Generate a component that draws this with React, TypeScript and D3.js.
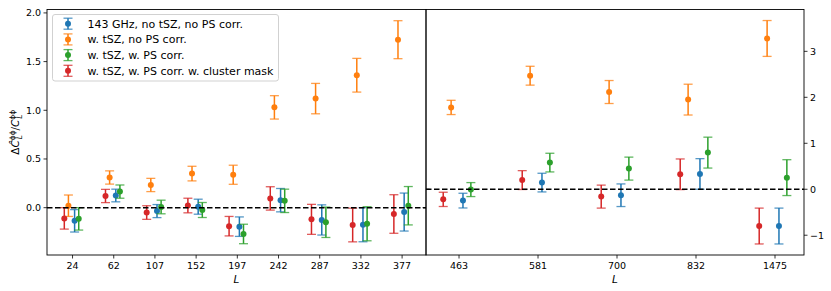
import React from "react";
import * as d3 from "d3";

const leftL = ["24", "62", "107", "152", "197", "242", "287", "332", "377"];
const rightL = ["463", "581", "700", "832", "1475"];

const blueLeft = [-0.135, 0.125, -0.035, 0.01, -0.195, 0.077, -0.126, -0.175, -0.045];
const blueLeftErr = [0.115, 0.065, 0.067, 0.077, 0.1, 0.12, 0.155, 0.175, 0.195];
const orangeLeft = [0.02, 0.31, 0.233, 0.35, 0.338, 1.03, 1.12, 1.36, 1.725];
const orangeLeftErr = [0.11, 0.068, 0.068, 0.075, 0.098, 0.12, 0.156, 0.173, 0.195];
const greenLeft = [-0.115, 0.165, 0.007, -0.024, -0.27, 0.07, -0.15, -0.165, 0.02];
const greenLeftErr = [0.115, 0.068, 0.07, 0.077, 0.1, 0.12, 0.156, 0.175, 0.197];
const redLeft = [-0.11, 0.12, -0.05, 0.022, -0.19, 0.095, -0.12, -0.178, -0.065];
const redLeftErr = [0.11, 0.068, 0.07, 0.075, 0.1, 0.12, 0.154, 0.173, 0.198];

const blueRight = [-0.247, 0.145, -0.13, 0.333, -0.8];
const blueRightErr = [0.16, 0.203, 0.246, 0.333, 0.39];
const orangeRight = [1.78, 2.47, 2.115, 1.95, 3.28];
const orangeRightErr = [0.155, 0.205, 0.25, 0.335, 0.39];
const greenRight = [-0.007, 0.58, 0.449, 0.797, 0.253];
const greenRightErr = [0.152, 0.203, 0.25, 0.336, 0.39];
const redRight = [-0.22, 0.2, -0.16, 0.326, -0.8];
const redRightErr = [0.155, 0.205, 0.25, 0.333, 0.39];

const seriesNames = [
  "143 GHz, no tSZ, no PS corr.",
  "w. tSZ, no PS corr.",
  "w. tSZ, w. PS corr.",
  "w. tSZ, w. PS corr. w. cluster mask",
];
const seriesColors = ["#1f77b4", "#ff7f0e", "#2ca02c", "#d62728"];
const seriesOffsets = [0.05, -0.1, 0.15, -0.2];

const leftYTicks = [0, 0.5, 1, 1.5, 2];
const rightYTicks = [-1, 0, 1, 2, 3];

const FONT = "DejaVu Sans, sans-serif";

const TOP = 9.5;
const BOTTOM = 255;
const LX0 = 47;
const MID = 426;
const RX1 = 804;

const xLeft = d3.scaleLinear().domain([-0.62, 8.58]).range([LX0, MID]);
const yLeft = d3.scaleLinear().domain([-0.486, 2.035]).range([BOTTOM, TOP]);
const xRight = d3.scaleLinear().domain([-0.418, 4.367]).range([MID, RX1]);
const yRight = d3.scaleLinear().domain([-1.43, 3.91]).range([BOTTOM, TOP]);

const leftSeries = [
  [blueLeft, blueLeftErr],
  [orangeLeft, orangeLeftErr],
  [greenLeft, greenLeftErr],
  [redLeft, redLeftErr],
];
const rightSeries = [
  [blueRight, blueRightErr],
  [orangeRight, orangeRightErr],
  [greenRight, greenRightErr],
  [redRight, redRightErr],
];

function ErrPoint({ cx, cy, top, bot, color }: { cx: number; cy: number; top: number; bot: number; color: string }) {
  const cw = 4.5;
  return (
    <g>
      <line x1={cx} x2={cx} y1={top} y2={bot} stroke={color} strokeWidth={1.5} />
      <line x1={cx - cw} x2={cx + cw} y1={top} y2={top} stroke={color} strokeWidth={1.3} opacity={0.75} />
      <line x1={cx - cw} x2={cx + cw} y1={bot} y2={bot} stroke={color} strokeWidth={1.3} opacity={0.75} />
      <circle cx={cx} cy={cy} r={3} fill={color} />
    </g>
  );
}

function Panel({ labels, series, x, y }: any) {
  return (
    <g>
      {series.map(([vals, errs]: any, si: number) =>
        vals.map((v: number, i: number) => (
          <ErrPoint
            key={`${si}-${i}`}
            cx={x(i + seriesOffsets[si])}
            cy={y(v)}
            top={y(v + errs[i])}
            bot={y(v - errs[i])}
            color={seriesColors[si]}
          />
        ))
      )}
      <line x1={x.range()[0]} x2={x.range()[1]} y1={y(0)} y2={y(0)} stroke="#000" strokeWidth={1.5} strokeDasharray="5.5,2.5" />
      {labels.map((l: string, i: number) => (
        <g key={l}>
          <line x1={x(i)} x2={x(i)} y1={BOTTOM} y2={BOTTOM + 3.5} stroke="#000" strokeWidth={0.8} />
          <text x={x(i)} y={BOTTOM + 14} textAnchor="middle" fontSize={9.5} fontFamily={FONT}>{l}</text>
        </g>
      ))}
    </g>
  );
}

export default function App() {
  return (
    <svg width={831} height={291} style={{ position: "absolute", left: 0, top: 0, background: "#fff" }}>
      <rect x={0} y={0} width={831} height={291} fill="#fff" />
      <Panel labels={leftL} series={leftSeries} x={xLeft} y={yLeft} />
      <Panel labels={rightL} series={rightSeries} x={xRight} y={yRight} />

      {/* frames */}
      <rect x={LX0} y={TOP} width={MID - LX0} height={BOTTOM - TOP} fill="none" stroke="#000" strokeWidth={0.9} />
      <rect x={MID} y={TOP} width={RX1 - MID} height={BOTTOM - TOP} fill="none" stroke="#000" strokeWidth={0.9} />

      {/* left y ticks */}
      {leftYTicks.map((t) => (
        <g key={t}>
          <line x1={LX0 - 3.5} x2={LX0} y1={yLeft(t)} y2={yLeft(t)} stroke="#000" strokeWidth={0.8} />
          <text x={LX0 - 6} y={yLeft(t) + 3.4} textAnchor="end" fontSize={9.5} fontFamily={FONT}>{t.toFixed(1)}</text>
        </g>
      ))}
      {/* right y ticks */}
      {rightYTicks.map((t) => (
        <g key={t}>
          <line x1={RX1} x2={RX1 + 3.5} y1={yRight(t)} y2={yRight(t)} stroke="#000" strokeWidth={0.8} />
          <text x={RX1 + 6} y={yRight(t) + 3.4} textAnchor="start" fontSize={9.5} fontFamily={FONT}>{t < 0 ? `\u2212${Math.abs(t)}` : `${t}`}</text>
        </g>
      ))}
      {/* cross ticks at the shared border */}
      <line x1={MID} x2={MID + 3.5} y1={yRight(0)} y2={yRight(0)} stroke="#000" strokeWidth={0.8} />
      <line x1={MID - 3.5} x2={MID} y1={yLeft(0)} y2={yLeft(0)} stroke="#000" strokeWidth={0.8} />

      {/* x labels */}
      <text x={(LX0 + MID) / 2} y={283} textAnchor="middle" fontSize={10.5} fontStyle="italic" fontFamily={FONT}>L</text>
      <text x={(MID + RX1) / 2} y={283} textAnchor="middle" fontSize={10.5} fontStyle="italic" fontFamily={FONT}>L</text>

      {/* y label */}
      <text transform={`translate(19, ${(TOP + BOTTOM) / 2}) rotate(-90)`} textAnchor="middle" fontSize={10.5} fontFamily={FONT}>
        <tspan>Δ</tspan>
        <tspan fontStyle="italic">Ĉ</tspan>
        <tspan fontSize={7.5} dy={-4.5}>ϕϕ</tspan>
        <tspan fontSize={7.5} fontStyle="italic" dx={-9} dy={7.5}>L</tspan>
        <tspan dx={4.5} dy={-3}>/</tspan>
        <tspan fontStyle="italic">C</tspan>
        <tspan fontSize={7.5} dy={-4.5}>ϕϕ</tspan>
        <tspan fontSize={7.5} fontStyle="italic" dx={-9} dy={7.5}>L</tspan>
      </text>

      {/* legend */}
      <rect x={52.5} y={14.5} width={226} height={66.5} rx={2.5} fill="#fff" fillOpacity={0.8} stroke="#ccc" strokeWidth={0.9} />
      {seriesNames.map((n, i) => {
        const ly = 23.7 + i * 15.7;
        return (
          <g key={n}>
            <ErrPoint cx={68} cy={ly} top={ly - 5.5} bot={ly + 5.5} color={seriesColors[i]} />
            <text x={87.5} y={ly + 3.8} fontSize={11} fontFamily={FONT}>{n}</text>
          </g>
        );
      })}
    </svg>
  );
}
